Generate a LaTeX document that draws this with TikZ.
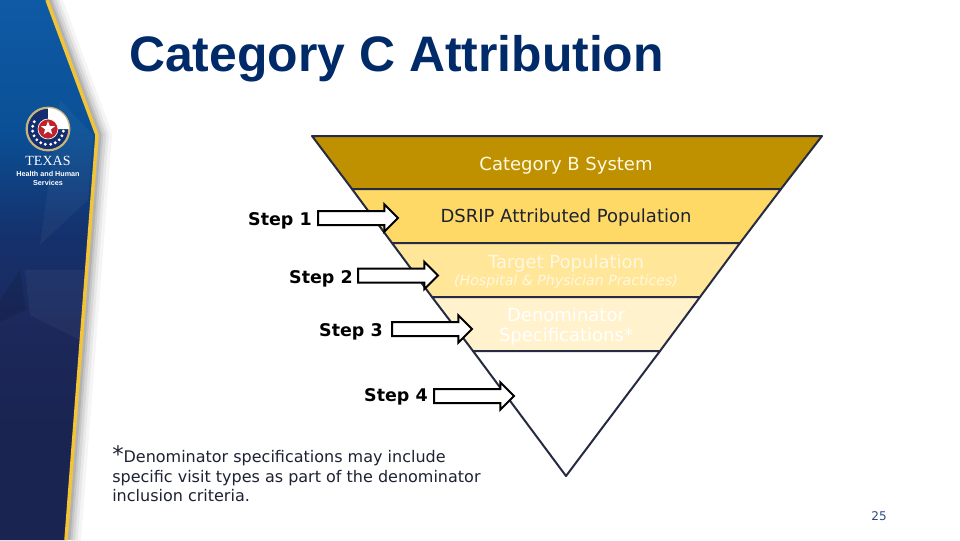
\documentclass[tikz,border=0pt]{standalone}
\usepackage{fontspec}
\setmainfont{DejaVu Sans}
\newfontfamily\titlefont{Liberation Sans}
\newfontfamily\logoserif{Liberation Serif}
\newfontfamily\logosans{Liberation Sans}
\usetikzlibrary{shapes.arrows,shapes.geometric,calc}
\definecolor{band1}{RGB}{191,144,0}
\definecolor{band2}{RGB}{255,217,102}
\definecolor{band3}{RGB}{255,230,153}
\definecolor{band4}{RGB}{255,242,204}
\definecolor{funnelline}{RGB}{38,43,68}
\definecolor{navy}{RGB}{0,42,104}
\definecolor{sealnavy}{RGB}{20,45,110}
\definecolor{gold}{RGB}{242,196,54}
\definecolor{fadedtext}{RGB}{255,248,225}
\definecolor{creamtext}{RGB}{255,250,225}
\definecolor{darktext}{RGB}{30,34,50}
\pgfdeclareverticalshading{panelshade}{100bp}{
 rgb(0bp)=(0.098,0.141,0.314);
 rgb(35bp)=(0.098,0.141,0.314);
 rgb(44.4bp)=(0.110,0.157,0.353);
 rgb(53.7bp)=(0.078,0.196,0.431);
 rgb(63bp)=(0.039,0.314,0.588);
 rgb(75bp)=(0.059,0.353,0.647);
 rgb(81.5bp)=(0.078,0.392,0.686);
 rgb(90.7bp)=(0.039,0.510,0.784);
 rgb(100bp)=(0.000,0.706,0.882)}
\tikzset{
 x=0.75pt,y=-0.75pt,
 bandshape/.style={draw=funnelline,line width=1.5pt,line join=round},
 steparrow/.style={single arrow,draw=black,fill=white,line width=1.5pt,
   minimum height=60pt,single arrow head extend=5pt,
   single arrow head indent=0pt,inner sep=0pt,inner ysep=4.5pt,outer sep=0pt,anchor=tip},
 steplabel/.style={font=\fontsize{13.1}{15}\selectfont\bfseries,text=black,anchor=east,inner sep=0pt},
 bandlabel/.style={font=\fontsize{13.5}{15}\selectfont,align=center,inner sep=0pt},
 footline/.style={anchor=base west,inner sep=0pt,text=darktext,font=\fontsize{12}{14}\selectfont},
 leaf/.style={fill=white,circle,inner sep=0pt,minimum size=2.4pt},
}
\begin{document}
\begin{tikzpicture}
\useasboundingbox (0,0) rectangle (960,540);
\fill[white] (0,0) rectangle (960,540);
% shadow
\foreach \w/\o in {2/0.10,5/0.08,9/0.07,13/0.05,18/0.04}
  \draw[black,opacity=\o,line width=\w pt] (50,0) -- (100,135) -- (69,540);
% side panel
\shade[shading=panelshade] (0,0) -- (47,0) -- (97,135) -- (66,540) -- (0,540) -- cycle;
\fill[white,opacity=0.04] (60,100) -- (93,135) -- (88,200) -- (40,245) -- cycle;
\fill[black,opacity=0.10] (0,300) -- (20,270) -- (26,310) -- (0,322) -- cycle;
\fill[white,opacity=0.04] (25,270) -- (84,270) -- (80,340) -- (30,315) -- cycle;
\draw[gold,line width=2.6pt,line join=round] (47,0) -- (97,135) -- (66,540);
% logo
\node[circle,fill=sealnavy,draw={rgb,255:red,200;green,180;blue,125},line width=1.6pt,minimum size=32pt,inner sep=0pt] (seal) at (48,129) {};
\fill[white] (48,129) -- (48,108) arc[start angle=-90,end angle=0,radius=21] -- cycle;
\foreach \a in {100,118,136,154,172,190,208}
  \node[leaf] (l\a) at ($(48,129)+(\a:15.5)$) {};
\foreach \a in {80,62,44,26,8}
  \node[leaf] (r\a) at ($(48,129)+(\a:15.5)$) {};
\node[circle,fill={rgb,255:red,190;green,35;blue,45},draw=white,line width=0.5pt,minimum size=15pt,inner sep=0pt] (sealred) at (48,129) {};
\node[star,star points=5,star point ratio=2.4,fill=white,minimum size=11pt,inner sep=0pt] (sealstar) at (48,128.5) {};
\node[text=white,font=\logoserif\fontsize{10.5}{12}\selectfont,inner sep=0pt] (texas) at (48,161) {TEXAS};
\node[text=white,font=\logosans\bfseries\fontsize{5.4}{7}\selectfont,inner sep=0pt] (hhs1) at (48,174) {Health and Human};
\node[text=white,font=\logosans\bfseries\fontsize{5.4}{7}\selectfont,inner sep=0pt] (hhs2) at (48,183) {Services};
% title
\node[anchor=base west,text=navy,font=\titlefont\bfseries\fontsize{37.4}{40}\selectfont,inner sep=0pt] (title) at (129,71) {Category C Attribution};
% funnel
\path[draw=funnelline,line width=1.5pt,fill=band1,line join=round] (312,136) -- (822,136) -- (781,189) -- (352,189) -- cycle;
\path[bandshape,fill=band2] (352,189) -- (781,189) -- (740,243) -- (392,243) -- cycle;
\path[bandshape,fill=band3] (392,243) -- (740,243) -- (700,297) -- (432,297) -- cycle;
\path[bandshape,fill=band4] (432,297) -- (700,297) -- (660,351) -- (473,351) -- cycle;
\path[bandshape,fill=white] (473,351) -- (660,351) -- (566,476) -- cycle;
% band labels
\node[bandlabel,text=creamtext] (cat) at (566,165.5) {Category B System};
\node[bandlabel,text=darktext] (dsrip) at (566,218) {DSRIP Attributed Population};
\node[bandlabel,text=fadedtext] (target) at (566,264) {Target Population};
\node[bandlabel,text=fadedtext,font=\fontsize{10.6}{12}\selectfont\itshape] (hosp) at (566,282) {(Hospital \& Physician Practices)};
\node[bandlabel,text=white,font=\fontsize{13.5}{15}\selectfont] (denom) at (566,327) {Denominator\\Specifications*};
% arrows
\node[steparrow] (a1) at (398,218) {};
\node[steparrow] (a2) at (438,275.5) {};
\node[steparrow] (a3) at (472,329) {};
\node[steparrow] (a4) at (514,396) {};
% step labels
\node[steplabel] (s1) at (312,221) {Step 1};
\node[steplabel] (s2) at (353,278.5) {Step 2};
\node[steplabel] (s3) at (383,332) {Step 3};
\node[steplabel] (s4) at (428,397) {Step 4};
% footnote
\node[footline] (foot1) at (112,462) {{\fontsize{17}{17}\selectfont *}Denominator specifications may include};
\node[footline] (foot2) at (112,482) {specific visit types as part of the denominator};
\node[footline] (foot3) at (112,501) {inclusion criteria.};
\node[anchor=base,inner sep=0pt,text={rgb,255:red,40;green,75;blue,130},font=\fontsize{9}{11}\selectfont] (page) at (879,520) {25};
\end{tikzpicture}
\end{document}
